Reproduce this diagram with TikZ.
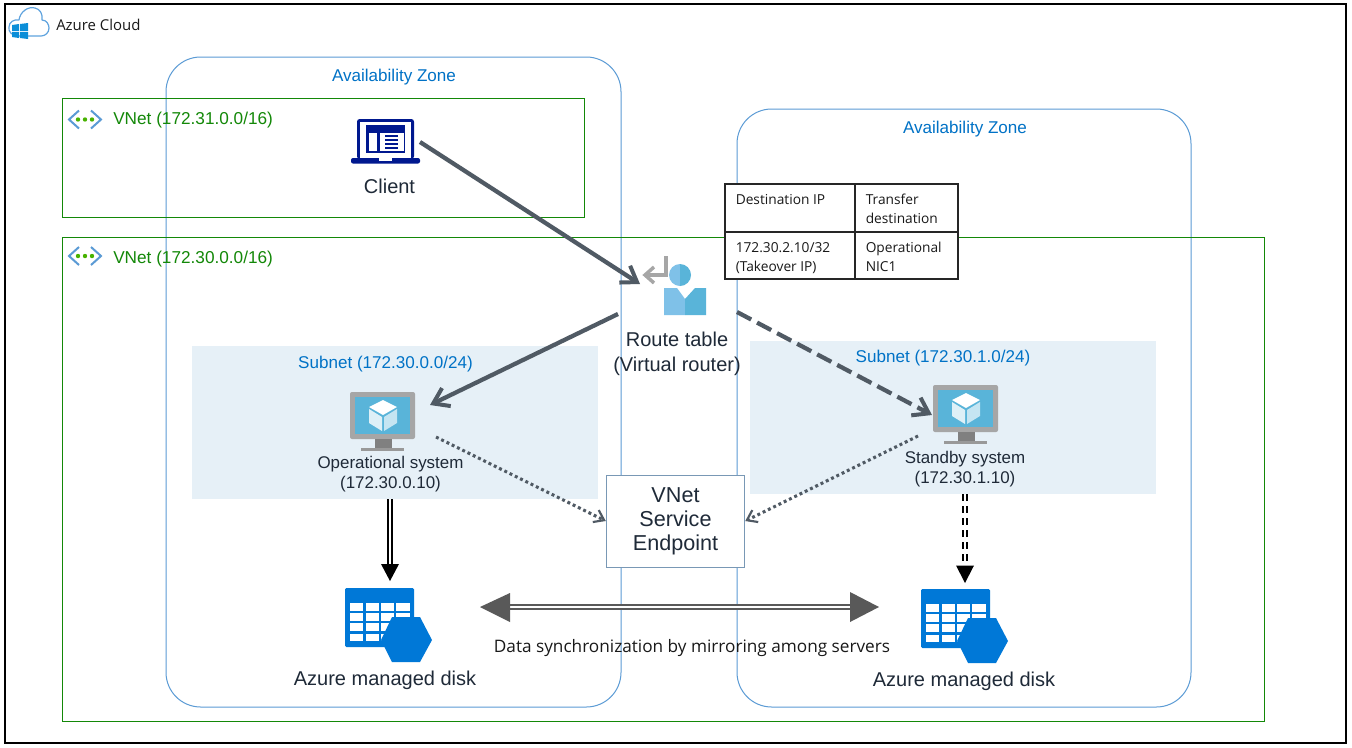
\documentclass[tikz,border=0pt]{standalone}
\usepackage{fontspec}
\setmainfont{Liberation Sans}
\newfontfamily\tahomaish{Open Sans}
\usetikzlibrary{arrows.meta}
\definecolor{azline}{HTML}{5B9BD5}
\definecolor{azblue}{HTML}{0072C6}
\definecolor{vgreen}{HTML}{138808}
\definecolor{dark}{HTML}{1F2A38}
\definecolor{arrowgray}{HTML}{505A64}
\definecolor{subnetbg}{HTML}{E6F0F7}
\definecolor{diskblue}{HTML}{0078D7}
\definecolor{navy}{HTML}{00188F}
\definecolor{sky}{HTML}{59B4D9}
\definecolor{skylight}{HTML}{7FC1E8}
\tikzset{
 x=0.75pt,y=-0.75pt,
 zone/.style={draw=azline,line width=0.75pt,rounded corners=26pt},
 vnetbox/.style={draw=vgreen,line width=0.75pt},
 subnetbox/.style={fill=subnetbg},
 zonelabel/.style={text=azblue,font=\fontsize{12.8}{14}\selectfont,inner sep=0pt},
 vnetlabel/.style={text=vgreen,font=\fontsize{12.9}{14}\selectfont,inner sep=0pt,anchor=west},
 iconlabel/.style={text=dark,font=\fontsize{15}{18.75}\selectfont,inner sep=0pt,align=center},
 vmlabel/.style={text=dark,font=\fontsize{12.7}{15}\selectfont,inner sep=0pt,align=center},
 cellbox/.style={draw=black!85,line width=1.1pt,fill=white},
 celltext/.style={font=\tahomaish\fontsize{10.3}{14.2}\selectfont,inner sep=0pt,anchor=north west,align=left,text=black!90},
 mainarrow/.style={draw=arrowgray,line width=3.2pt,-{Straight Barb[length=11pt,width=15pt,line width=3pt]}},
 dotarrow/.style={draw=arrowgray,line width=2.3pt,dash pattern=on 2.2pt off 2.2pt,-{Straight Barb[length=7pt,width=10pt,line width=1.6pt,sep=0pt]}},
 dbl/.style={draw=black,line width=1.7pt,double=white,double distance=1.2pt},
 synctip/.style={fill=black!65},
 pics/vnetic/.style={code={
  \draw[draw=azline,line width=1.5pt] (11,-9) -- (1,0) -- (11,9);
  \draw[draw=azline,line width=1.5pt] (23,-9) -- (33,0) -- (23,9);
  \foreach \i in {10,17,24}{\fill[green!60!yellow!70!black] (\i,0) circle (2.2);}
 }},
 pics/vmic/.style={code={
  \fill[black!35] (0,0) [rounded corners=1.5pt] rectangle (65,47);
  \fill[sky] (5,5) rectangle (60,42);
  \fill[black!50] (25,47) -- (42,47) -- (42,56) -- (25,56) -- cycle;
  \fill[black!40] (11,56) rectangle (54,59);
  \fill[white] (33,8) -- (47,15) -- (33,23) -- (19,15) -- cycle;
  \fill[white!80!sky] (19,17) -- (32,25) -- (32,39) -- (19,31) -- cycle;
  \fill[white!65!sky] (47,17) -- (34,25) -- (34,39) -- (47,31) -- cycle;
 }},
 pics/diskic/.style={code={
  \fill[diskblue,rounded corners=1pt] (0,0) rectangle (69,59);
  \foreach \cx in {5,20.5,36,51.3}{\foreach \cy in {15,25,35.3,45.7}{\fill[white] (\cx,\cy) rectangle ++(13.2,7.7);}}
  \fill[diskblue] (36,52) -- (47,29) -- (75,29) -- (87,52) -- (75,74) -- (47,74) -- cycle;
 }},
}
\begin{document}
\begin{tikzpicture}
\useasboundingbox (0,0) rectangle (1352,747);
\fill[white] (0,0) rectangle (1352,747);
\draw[black,line width=0.9pt] (5,4) rectangle (1346,743);
% subnets
\fill[subnetbox] (192,346) rectangle (598,499);
\fill[subnetbox] (750,341) rectangle (1156,494);
% zones and vnets
\draw[zone] (166,57) rectangle (621,707);
\draw[zone] (737,109) rectangle (1191,707);
\draw[vnetbox] (62,98) rectangle (584,217);
\draw[vnetbox] (62,237) rectangle (1264,721);
% cloud icon
\draw[draw=cyan!65!blue!65,line width=0.9pt,line join=round] (20,36) .. controls (12,36) and (8,32) .. (9,27) .. controls (9,22) and (14,19) .. (19,20) .. controls (20,12) and (28,6) .. (35,8) .. controls (40,9) and (43,14) .. (42,20) .. controls (47,20) and (49,25) .. (49,28) .. controls (49,33) and (45,36) .. (41,36) -- cycle;
\fill[cyan!75!blue] (12,25) -- (19,24) -- (19,31) -- (12,31) -- cycle (20,24) -- (28,23) -- (28,31) -- (20,31) -- cycle (12,32) -- (19,32) -- (19,38) -- (12,37) -- cycle (20,32) -- (28,32) -- (28,39) -- (20,38) -- cycle;
\node[anchor=west,inner sep=0pt,font=\tahomaish\fontsize{11.2}{13}\selectfont,text=black!90] (cloudlabel) at (56,25) {Azure Cloud};
% labels
\node[zonelabel] (zoneA) at (394,77.5) {Availability Zone};
\node[zonelabel] (zoneB) at (965,129.5) {Availability Zone};
\pic at (68,119.5) {vnetic};
\pic at (68,256) {vnetic};
\node[vnetlabel] (vnetA) at (113,120.5) {VNet (172.31.0.0/16)};
\node[vnetlabel] (vnetB) at (113,259.5) {VNet (172.30.0.0/16)};
\node[zonelabel] (subA) at (385.5,364.5) {Subnet (172.30.0.0/24)};
\node[zonelabel] (subB) at (943,358.5) {Subnet (172.30.1.0/24)};
% client
\fill[navy,rounded corners=2pt] (357,119) rectangle (414,159);
\fill[white] (360,122) rectangle (411,158);
\fill[navy] (366,125) rectangle (405,153);
\fill[white] (369,133) rectangle (377,151);
\fill[white] (380,133) rectangle (404,151);
\foreach \sy in {135,139,143,147}{\fill[navy] (385,\sy) rectangle (398,\sy+2);}
\fill[navy,rounded corners=1.5pt] (351,158) rectangle (420,163.5);
\fill[white] (379,158) rectangle (392,160.5);
\node[iconlabel] (client) at (389.5,186) {Client};
\coordinate (clientEnd) at (420,142);
% route table
\draw[draw=black!35,line width=2.6pt] (666,256) -- (666,275) -- (645,275);
\draw[draw=black!35,line width=2.6pt] (654,267) -- (645,275) -- (654,283);
\fill[skylight] (680,264) arc (-90:-270:11) -- cycle;
\fill[sky] (680,264) arc (-90:90:11) -- cycle;
\fill[skylight] (664,288) -- (677,288) -- (685,299) -- (685,315) -- (664,315) -- cycle;
\fill[sky] (706,288) -- (695,288) -- (685,299) -- (685,315) -- (706,315) -- cycle;
\node[iconlabel] (route) at (677,354) {Route table\\(Virtual router)};
\coordinate (routeIn) at (640,284);
\coordinate (routeOutL) at (618,314);
\coordinate (routeOutR) at (737,312);
% table
\draw[cellbox] (725,184) rectangle (958,279);
\draw[draw=black!85,line width=1.1pt] (855,184) -- (855,279);
\draw[draw=black!85,line width=1.1pt] (725,232) -- (958,232);
\node[celltext] (c11) at (735.5,194) {Destination IP};
\node[celltext] (c12) at (865.5,194) {Transfer\\destination};
\node[celltext] (c21) at (735.5,242) {172.30.2.10/32\\(Takeover IP)};
\node[celltext] (c22) at (865.5,242) {Operational\\NIC1};
% VMs
\pic at (350,392) {vmic};
\pic at (933,385) {vmic};
\node[vmlabel] (opsys) at (390.5,474.5) {Operational system\\(172.30.0.10)};
\node[vmlabel] (stbsys) at (965,469.5) {Standby system\\(172.30.1.10)};
\coordinate (opIn) at (430,405);
\coordinate (opOut) at (436,437);
\coordinate (opBottom) at (390,499);
\coordinate (stIn) at (932,415);
\coordinate (stOut) at (918,436);
\coordinate (stBottom) at (965,494);
% endpoint
\node[draw=azline!70!black!70,fill=white,line width=0.6pt,minimum width=104pt,minimum height=69pt,inner sep=0pt,align=center,font=\fontsize{16.2}{18}\selectfont,text=dark] (endpoint) at (675.5,521) {VNet\\Service\\Endpoint};
% disks
\pic at (345,588) {diskic};
\pic at (921,589) {diskic};
\node[iconlabel] (diskA) at (385,680) {Azure managed disk};
\node[iconlabel] (diskB) at (964,681) {Azure managed disk};
\coordinate (diskAtop) at (390,581);
\coordinate (diskBtop) at (965,583);
\coordinate (syncL) at (480,607);
\coordinate (syncR) at (879,607);
% connectors
\draw[mainarrow] (clientEnd) -- (routeIn);
\draw[mainarrow] (routeOutL) -- (opIn);
\draw[mainarrow,dash pattern=on 12pt off 5pt] (routeOutR) -- (stIn);
\draw[dotarrow] (opOut) -- (endpoint.west |- 0,521);
\draw[dotarrow] (stOut) -- (endpoint.east |- 0,521);
% double lines
\draw[dbl] (opBottom) -- (390,565);
\fill[black] (381,564) -- (399,564) -- (diskAtop) -- cycle;
\draw[dbl,dash pattern=on 5.5pt off 3.5pt] (stBottom) -- (965,565);
\fill[black] (956,565.5) -- (974,565.5) -- (diskBtop) -- cycle;
\draw[draw=black!65,line width=1.3pt,double=white,double distance=1.4pt] (510,607) -- (850,607);
\fill[synctip] (syncL) -- (510,593) -- (510,622) -- cycle;
\fill[synctip] (syncR) -- (850,592) -- (850,622) -- cycle;
\node[inner sep=0pt,font=\tahomaish\fontsize{12.9}{15}\selectfont,text=black!90] (synclabel) at (692,648) {Data synchronization by mirroring among servers};
\end{tikzpicture}
\end{document}
